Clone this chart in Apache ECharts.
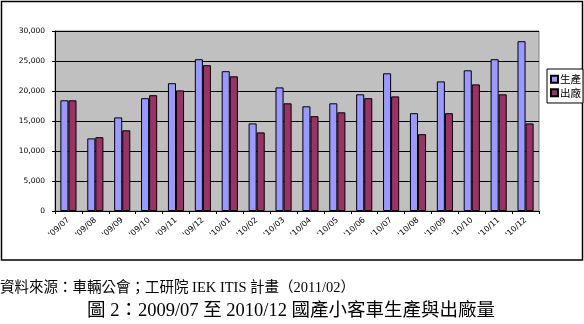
<!DOCTYPE html>
<html>
<head>
<meta charset="utf-8">
<script src="https://cdn.jsdelivr.net/npm/echarts@6/dist/echarts.min.js"></script>
<style>
  html, body { margin: 0; padding: 0; background: #fff; }
  #chart { width: 584px; height: 324px; }
</style>
</head>
<body>
<div id="chart"></div>
<script>
// Monthly domestic passenger-car production and shipments, 2009/07 – 2010/12
const months = ["'09/07", "'09/08", "'09/09", "'09/10", "'09/11", "'09/12",
                "'10/01", "'10/02", "'10/03", "'10/04", "'10/05", "'10/06",
                "'10/07", "'10/08", "'10/09", "'10/10", "'10/11", "'10/12"];
const production = [18450, 12100, 15600, 18800, 21300, 25300, 23300, 14600, 20600,
                    17450, 17950, 19450, 22950, 16300, 21600, 23450, 25300, 28300];
const shipments  = [18450, 12300, 13450, 19300, 20100, 24300, 22450, 13100, 17950,
                    15800, 16450, 18800, 19100, 12800, 16300, 21100, 19450, 14600];
const yTicks = { min: 0, max: 30000, interval: 5000 };

const sourceText = '資料來源：車輛公會；工研院 IEK ITIS 計畫（2011/02）';
const titleText = '圖 2：2009/07 至 2010/12 國產小客車生產與出廠量';

const chart = echarts.init(document.getElementById('chart'), null, { renderer: 'canvas' });

const serifCJK = '"Liberation Serif", "Noto Sans CJK TC", serif';

chart.setOption({
  animation: false,
  backgroundColor: '#ffffff',
  grid: {
    left: 55, top: 31, width: 484, height: 180,
    show: true, backgroundColor: '#C0C0C0', borderColor: '#808080', borderWidth: 1
  },
  legend: {
    orient: 'vertical',
    left: 547, top: 69,
    backgroundColor: '#ffffff',
    borderColor: '#000000', borderWidth: 1, borderRadius: 0,
    padding: [5, 2, 5, 3],
    itemWidth: 7, itemHeight: 7, itemGap: 3,
    icon: 'rect',
    textStyle: { fontSize: 10.5, color: '#000', fontFamily: '"Noto Sans CJK TC", sans-serif', padding: [0, 0, 0, -3] },
    data: ['生產', '出廠']
  },
  xAxis: {
    type: 'category',
    data: months,
    axisLine: { lineStyle: { color: '#000', width: 1 } },
    axisTick: { show: true, interval: 0, length: 3, lineStyle: { color: '#000' } },
    axisLabel: { interval: 0, rotate: 42, fontSize: 8, color: '#000', margin: 8,
                 fontFamily: '"DejaVu Sans", sans-serif' }
  },
  yAxis: {
    type: 'value',
    min: yTicks.min, max: yTicks.max, interval: yTicks.interval,
    axisLine: { show: true, lineStyle: { color: '#000', width: 1 } },
    axisTick: { show: true, length: 3, lineStyle: { color: '#000' } },
    splitLine: { show: true, lineStyle: { color: '#000', width: 1 } },
    axisLabel: { fontSize: 7.5, color: '#000', margin: 10,
                 fontFamily: '"DejaVu Sans", sans-serif',
                 formatter: v => v.toLocaleString('en-US') }
  },
  series: [
    {
      name: '生產', type: 'bar', data: production,
      barGap: '0%', barCategoryGap: '40%',
      itemStyle: { color: '#9999FF', borderColor: '#000', borderWidth: 1 }
    },
    {
      name: '出廠', type: 'bar', data: shipments,
      itemStyle: { color: '#993366', borderColor: '#000', borderWidth: 1 }
    }
  ],
  graphic: [
    {
      type: 'rect', silent: true, z: -1,
      shape: { x: 1.5, y: 1.5, width: 581, height: 258.5 },
      style: { fill: null, stroke: '#000', lineWidth: 1.5 }
    },
    {
      type: 'text', left: 0, top: 281,
      style: { text: sourceText, font: '14.5px ' + serifCJK, fill: '#000' }
    },
    {
      type: 'text', left: 87, top: 302,
      style: { text: titleText, font: '18.5px ' + serifCJK, fill: '#000' }
    }
  ]
});
</script>
</body>
</html>
